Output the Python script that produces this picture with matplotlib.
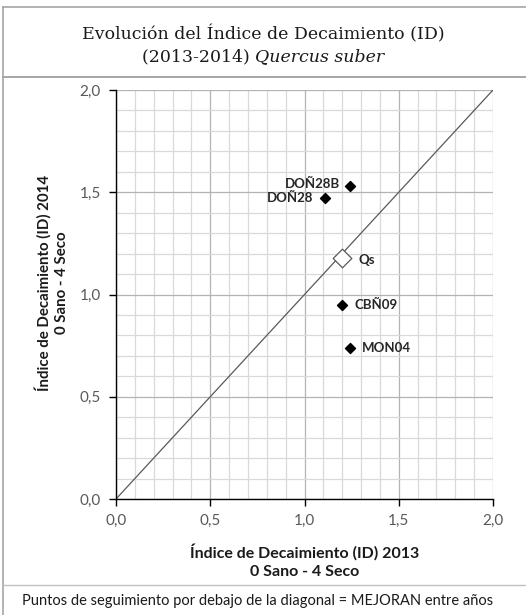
import matplotlib
matplotlib.use("Agg")
import matplotlib.pyplot as plt
from matplotlib.lines import Line2D
import numpy as np

# Data
site_names = ["DOÑ28B", "DOÑ28", "CBÑ09", "MON04"]
id_2013 = [1.24, 1.11, 1.20, 1.24]
id_2014 = [1.53, 1.47, 0.95, 0.74]
mean_name = "Qs"
mean_2013 = [1.20]
mean_2014 = [1.18]
tick_values = [0.0, 0.5, 1.0, 1.5, 2.0]
tick_labels = ["0,0", "0,5", "1,0", "1,5", "2,0"]

W, H = 526, 615
fig = plt.figure(figsize=(W / 100, H / 100), dpi=100)

def fx(px):
    return px / W

def fy(py):
    return 1 - py / H

# Frame lines
border = "#a6a6a6"
fig.add_artist(Line2D([fx(3), fx(526)], [fy(7), fy(7)], color=border, lw=1.2))
fig.add_artist(Line2D([fx(3), fx(3)], [fy(7), fy(615)], color=border, lw=1.2))
fig.add_artist(Line2D([fx(3), fx(526)], [fy(77), fy(77)], color=border, lw=1.4))
fig.add_artist(Line2D([fx(3), fx(526)], [fy(585), fy(585)], color="#bfbfbf", lw=1.0))

# Title
title_font = "DejaVu Serif"
tsize = 12.5
fig.text(fx(263), fy(34), "Evolución del Índice de Decaimiento (ID)",
         ha="center", va="center", fontsize=tsize, family=title_font, color="#1a1a1a")
t1 = fig.text(0, fy(57), "(2013-2014) ", ha="left", va="center", fontsize=tsize,
              family=title_font, color="#1a1a1a")
t2 = fig.text(0, fy(57), "Quercus suber", ha="left", va="center", fontsize=tsize,
              family=title_font, style="italic", color="#1a1a1a")
renderer = fig.canvas.get_renderer()
w1 = t1.get_window_extent(renderer).width
w2 = t2.get_window_extent(renderer).width
start = 263 - (w1 + w2) / 2
t1.set_x(fx(start))
t2.set_x(fx(start + w1))

# Footer
fig.text(fx(22), fy(601), "Puntos de seguimiento por debajo de la diagonal = MEJORAN entre años",
         ha="left", va="center", fontsize=10.5, family="Lato", color="#1a1a1a")

# Axes
left, right, top, bottom = 116, 493, 90, 499
ax = fig.add_axes([fx(left), fy(bottom), (right - left) / W, (bottom - top) / H])
ax.set_xlim(0, 2)
ax.set_ylim(0, 2)

ax.set_xticks(tick_values)
ax.set_yticks(tick_values)
ax.set_xticklabels(tick_labels, family="Lato", fontsize=11, color="#595959")
ax.set_yticklabels(tick_labels, family="Lato", fontsize=11, color="#595959")
ax.set_xticks(np.arange(0, 2.01, 0.1), minor=True)
ax.set_yticks(np.arange(0, 2.01, 0.1), minor=True)
ax.tick_params(which="major", direction="out", length=5, width=1, color="black", pad=6)
ax.tick_params(which="minor", length=0)
ax.grid(which="minor", color="#d9d9d9", lw=0.9)
ax.grid(which="major", color="#b3b3b3", lw=0.9)
ax.set_axisbelow(True)

for s in ["top", "right"]:
    ax.spines[s].set_visible(False)
for s in ["left", "bottom"]:
    ax.spines[s].set_color("black")
    ax.spines[s].set_linewidth(1.0)

# Diagonal
ax.plot([0, 2], [0, 2], color="#595959", lw=0.9, zorder=2)

# Points
ax.scatter(id_2013, id_2014, marker="D", s=26, color="black", zorder=4)
ax.scatter(mean_2013, mean_2014, marker="D", s=90, facecolor="white",
           edgecolor="#595959", linewidth=0.9, zorder=4)

offsets = {"DOÑ28B": (-10, 2, "right"), "DOÑ28": (-12, 0, "right"),
           "CBÑ09": (12, 0, "left"), "MON04": (12, 0, "left")}
for name, x, y in zip(site_names, id_2013, id_2014):
    dx, dy, ha = offsets[name]
    ax.annotate(name, (x, y), xytext=(dx, dy), textcoords="offset pixels",
                ha=ha, va="center", fontsize=9.5, fontweight="bold",
                family="Lato", color="#262626")
ax.annotate(mean_name, (mean_2013[0], mean_2014[0]), xytext=(16, -2),
            textcoords="offset pixels", ha="left", va="center", fontsize=9.5,
            fontweight="bold", family="Lato", color="#262626")

ax.set_xlabel("Índice de Decaimiento (ID) 2013\n0 Sano - 4 Seco", family="Lato",
              fontsize=11.5, fontweight="bold", color="#1a1a1a", linespacing=1.4)
ax.xaxis.set_label_coords(0.5, (499 - 579) / 409, transform=ax.transAxes)
ax.xaxis.label.set_va("bottom")
ax.set_ylabel("Índice de Decaimiento (ID) 2014\n0 Sano - 4 Seco", family="Lato",
              fontsize=10.8, fontweight="bold", color="#1a1a1a", linespacing=1.35)
ax.yaxis.set_label_coords((52 - 116) / 377, (499 - 283) / 409, transform=ax.transAxes)
ax.yaxis.label.set_va("center")

fig.savefig("out.png", dpi=100)
